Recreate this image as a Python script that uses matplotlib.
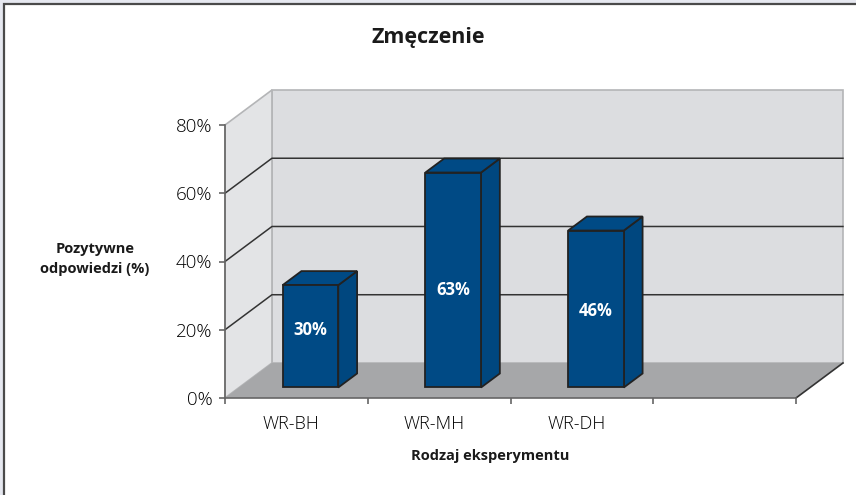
import matplotlib
matplotlib.use("Agg")
import matplotlib.pyplot as plt
from matplotlib.patches import Polygon, Rectangle
from matplotlib.lines import Line2D
from matplotlib.transforms import ScaledTranslation

categories = ["WR-BH", "WR-MH", "WR-DH", ""]
values = [30, 63, 46]
value_labels = ["30%", "63%", "46%"]
y_ticks = [0, 20, 40, 60, 80]
y_tick_labels = ["0%", "20%", "40%", "60%", "80%"]
title = "Zmęczenie"
x_title = "Rodzaj eksperymentu"
y_title = "Pozytywne\nodpowiedzi (%)"

plt.rcParams["font.family"] = ["Open Sans", "DejaVu Sans"]

W, H = 856, 495
fig = plt.figure(figsize=(W / 100, H / 100), dpi=100)
fig.patch.set_facecolor("#e6e8f0")
# white card with dark frame (only top/left edges are in view)
fig.patches.append(Rectangle((4 / W, -0.1), 1.2, (H - 4) / H + 0.1, transform=fig.transFigure,
                             facecolor="white", edgecolor="#4a4a4a", lw=1.6, zorder=-10))

ax = fig.add_axes([225 / W, 1 - 398 / H, 571 / W, 273 / H])
n = len(categories)
ymax = y_ticks[-1]
ax.set_xlim(0, n)
ax.set_ylim(0, ymax)
ax.patch.set_visible(False)

# depth of the 3D box, in data units
DX, DY = 0.329, 10.26

ax.add_patch(Polygon([(0, 0), (n, 0), (n + DX, DY), (DX, DY)], closed=True,
                     facecolor="#a6a7a9", edgecolor="none", clip_on=False, zorder=0.5))
ax.add_patch(Rectangle((DX, DY), n, ymax, facecolor="#dcdde0", edgecolor="#b4b5b7",
                       lw=1.2, clip_on=False, zorder=0.4))
ax.add_patch(Polygon([(0, 0), (DX, DY), (DX, ymax + DY), (0, ymax)], closed=True,
                     facecolor="#e3e4e6", edgecolor="#b4b5b7", lw=1.2, clip_on=False, zorder=0.45))
ax.add_line(Line2D([n, n + DX], [0, DY], color="#333333", lw=1.2, clip_on=False, zorder=0.6))

for t in y_ticks[1:-1]:
    ax.add_line(Line2D([0, DX, n + DX], [t, t + DY, t + DY], color="#333333",
                       lw=1.1, clip_on=False, zorder=0.7))

# bars
bw, z0, dz = 0.39, 0.3, 0.4
face = "#004a85"
edge = "#222222"
for i, v in enumerate(values):
    c = i + 0.5
    x0 = c - bw / 2 + z0 * DX
    x1 = c + bw / 2 + z0 * DX
    y0 = z0 * DY
    y1 = v + z0 * DY
    ox, oy = dz * DX, dz * DY
    ax.add_patch(Polygon([(x1, y0), (x1 + ox, y0 + oy), (x1 + ox, y1 + oy), (x1, y1)], closed=True,
                         facecolor="#00477f", edgecolor=edge, lw=1.3, clip_on=False, zorder=2))
    ax.add_patch(Polygon([(x0, y1), (x1, y1), (x1 + ox, y1 + oy), (x0 + ox, y1 + oy)], closed=True,
                         facecolor=face, edgecolor=edge, lw=1.3, clip_on=False, zorder=2))
    ax.add_patch(Rectangle((x0, y0), bw, v, facecolor=face, edgecolor=edge,
                           lw=1.3, clip_on=False, zorder=3))
    ax.text((x0 + x1) / 2, y0 + 0.36 * v + 6, value_labels[i], color="white",
            fontsize=12, fontweight="bold", ha="center", va="center", zorder=4)

for s in ["top", "right"]:
    ax.spines[s].set_visible(False)
for s in ["left", "bottom"]:
    ax.spines[s].set_color("#666666")
    ax.spines[s].set_linewidth(1.2)
    ax.spines[s].set_zorder(0.8)

ax.set_yticks(y_ticks)
ax.set_yticklabels(y_tick_labels)
ax.tick_params(axis="y", direction="out", length=4, width=1.2, color="#666666",
               pad=5, labelsize=13.5, labelcolor="black")
ax.set_xticks(range(n + 1))
ax.set_xticklabels([])
ax.tick_params(axis="x", which="major", direction="out", length=4, width=1.2, color="#666666")
ax.set_xticks([i + 0.5 for i in range(n)], minor=True)
ax.set_xticklabels(categories, minor=True)
ax.tick_params(axis="x", which="minor", length=0, pad=12, labelsize=13, labelcolor="black")
for lab in ax.get_xticklabels(minor=True) + ax.get_yticklabels():
    lab.set_fontweight("light")
shift = ScaledTranslation(-5 / 100, 0, fig.dpi_scale_trans)
for lab in ax.get_xticklabels(minor=True):
    lab.set_transform(lab.get_transform() + shift)

fig.text(428 / W, 1 - 38 / H, title, fontsize=15.5, fontweight="bold",
         ha="center", va="center", color="#1a1a1a")
fig.text(490 / W, 1 - 456 / H, x_title, fontsize=10.5, fontweight="bold",
         ha="center", va="center", color="#1a1a1a")
fig.text(95 / W, 1 - 259 / H, y_title, fontsize=10.5, fontweight="bold",
         ha="center", va="center", color="#1a1a1a", linespacing=1.6)

fig.savefig("out.png", dpi=100, facecolor=fig.get_facecolor())
